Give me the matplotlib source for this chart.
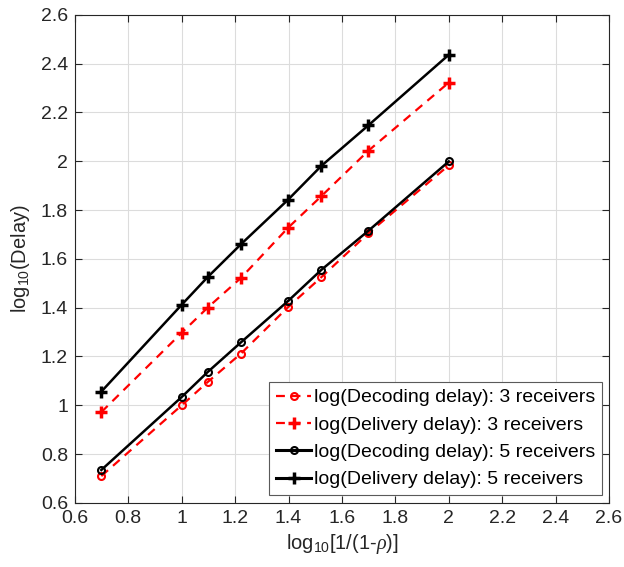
import matplotlib
matplotlib.use("Agg")
import matplotlib.pyplot as plt
from matplotlib.lines import Line2D
import numpy as np

plt.rcParams['font.family'] = ['Liberation Sans', 'DejaVu Sans']
plt.rcParams['mathtext.fontset'] = 'custom'
plt.rcParams['mathtext.it'] = 'Liberation Serif:italic'
plt.rcParams['mathtext.rm'] = 'Liberation Sans'

# x = log10(1/(1-rho)) for rho = 0.8 ... 0.99
x_vals = [0.699, 1.0, 1.097, 1.222, 1.398, 1.523, 1.699, 2.0]

decoding_3 = [0.71, 1.0, 1.095, 1.212, 1.402, 1.525, 1.705, 1.983]
delivery_3 = [0.972, 1.297, 1.40, 1.522, 1.727, 1.857, 2.043, 2.322]
decoding_5 = [0.735, 1.034, 1.136, 1.258, 1.427, 1.555, 1.715, 1.999]
delivery_5 = [1.056, 1.412, 1.525, 1.66, 1.842, 1.981, 2.147, 2.436]

labels = ['log(Decoding delay): 3 receivers',
          'log(Delivery delay): 3 receivers',
          'log(Decoding delay): 5 receivers',
          'log(Delivery delay): 5 receivers']

fig = plt.figure(figsize=(6.24, 5.67), dpi=100)
ax = fig.add_axes([0.120, 0.113, 0.856, 0.861])

dash = (0, (4, 3))
ax.plot(x_vals, decoding_3, ls=dash, marker='o', color='red', lw=1.6, ms=5, mfc='none', mew=1.5)
ax.plot(x_vals, delivery_3, ls=dash, marker='+', color='red', lw=1.6, ms=9, mew=2.5)
ax.plot(x_vals, decoding_5, ls='-', marker='o', color='black', lw=1.8, ms=5, mfc='none', mew=1.5)
ax.plot(x_vals, delivery_5, ls='-', marker='+', color='black', lw=1.8, ms=9, mew=2.5)

# legend handles
handles = [
    Line2D([], [], ls=dash, color='red', lw=1.6, marker='o', ms=5, mfc='none', mew=1.5),
    Line2D([], [], ls=dash, color='red', lw=1.6, marker='+', ms=8, mew=2.5),
    Line2D([], [], ls='-', color='black', lw=2.2, marker='o', ms=5, mfc='none', mew=1.5),
    Line2D([], [], ls='-', color='black', lw=2.2, marker='+', ms=8, mew=2.5),
]
leg = ax.legend(handles, labels, loc='lower right', bbox_to_anchor=(0.987, 0.016),
                fontsize=14, frameon=True, fancybox=False, edgecolor='#5a5a5a',
                handlelength=1.8, handletextpad=0.15, borderpad=0.35, labelspacing=0.5,
                borderaxespad=0.0, framealpha=1)
leg.get_frame().set_linewidth(0.8)

ticks = np.arange(0.6, 2.61, 0.2)
tick_labels = ['0.6', '0.8', '1', '1.2', '1.4', '1.6', '1.8', '2', '2.2', '2.4', '2.6']
ax.set_xlim(0.6, 2.6)
ax.set_ylim(0.6, 2.6)
ax.set_xticks(ticks)
ax.set_yticks(ticks)
ax.set_xticklabels(tick_labels)
ax.set_yticklabels(tick_labels)
ax.grid(True, color='#dcdcdc', lw=0.8)
ax.set_axisbelow(True)
ax.tick_params(direction='in', top=True, right=True, labelsize=14, colors='#262626',
               length=5, pad=5)
for s in ax.spines.values():
    s.set_color('#262626')
    s.set_linewidth(0.8)

ax.set_xlabel(r'log$_{10}$[1/(1-$\rho$)]', fontsize=14.5, color='#262626', labelpad=4)
ax.set_ylabel(r'log$_{10}$(Delay)', fontsize=14.5, color='#262626', labelpad=6)

fig.savefig('out.png', dpi=100)
